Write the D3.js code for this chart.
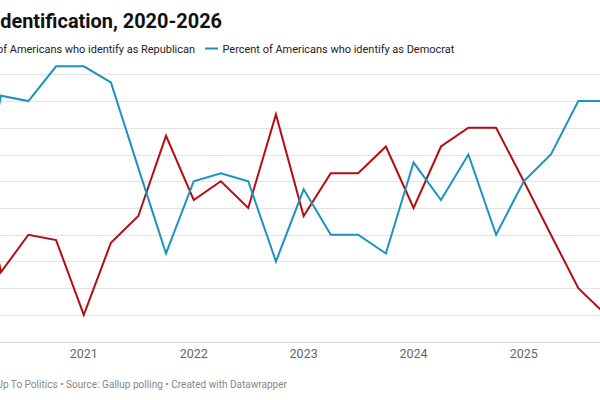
<!DOCTYPE html>
<html>
<head>
<meta charset="utf-8">
<script src="https://cdn.jsdelivr.net/npm/d3@7"></script>
<style>
  body { margin: 0; background: #fff; }
  svg { font-family: Roboto, "Noto Sans", sans-serif; display: block; }
</style>
</head>
<body>
<div id="chart"></div>
<script>
// quarterly Gallup readings (percent)
const dates = ["2020-01-01","2020-04-01","2020-07-01","2020-10-01",
  "2021-01-01","2021-04-01","2021-07-01","2021-10-01",
  "2022-01-01","2022-04-01","2022-07-01","2022-10-01",
  "2023-01-01","2023-04-01","2023-07-01","2023-10-01",
  "2024-01-01","2024-04-01","2024-07-01","2024-10-01",
  "2025-01-01","2025-04-01","2025-07-01","2025-10-01"];
const republican = [31.7, 26.6, 28.0, 27.8, 25.0, 27.7, 28.7, 31.7, 29.3, 30.0, 29.0, 32.5,
  28.7, 30.3, 30.3, 31.3, 29.0, 31.3, 32.0, 32.0, 30.0, 28.0, 26.0, 25.0];
const democrat = [28.0, 33.2, 33.0, 34.3, 34.3, 33.7, 30.5, 27.3, 30.0, 30.3, 30.0, 27.0,
  29.7, 28.0, 28.0, 27.3, 30.7, 29.3, 31.0, 28.0, 30.0, 31.0, 33.0, 33.0];
const yTicks = [24, 25, 26, 27, 28, 29, 30, 31, 32, 33, 34];
const xTicks = ["2021", "2022", "2023", "2024", "2025"];

const width = 600, height = 400;
const parse = d3.timeParse("%Y-%m-%d");

const svg = d3.select("#chart").append("svg")
  .attr("width", width)
  .attr("height", height)
  .style("background-color", "#ffffff");

// the picture is a crop of a wider chart, so the scale is anchored on the visible years
const x = d3.scaleTime()
  .domain([parse("2021-01-01"), parse("2025-01-01")])
  .range([83.8, 523.8]);

const y = d3.scaleLinear()
  .domain([24, 34])
  .range([341.7, 74.3]);

// shrink/grow a text so that the given part of it spans the wanted width
function fit(sel, part, target) {
  const node = sel.node();
  const size = parseFloat(sel.style("font-size"));
  const full = node.getComputedTextLength();
  const probe = sel.clone().text(part);
  const w = probe.node().getComputedTextLength();
  probe.remove();
  sel.style("font-size", (size * target / w) + "px");
  return full;
}

// gridlines
svg.append("g")
  .selectAll("line")
  .data(yTicks)
  .join("line")
  .attr("x1", -40)
  .attr("x2", width + 40)
  .attr("y1", d => Math.round(y(d)) + 0.5)
  .attr("y2", d => Math.round(y(d)) + 0.5)
  .attr("stroke", d => d === 24 ? "#d6d6d6" : "#e3e3e3")
  .attr("stroke-width", 1);

// x axis labels
svg.append("g")
  .selectAll("text")
  .data(xTicks)
  .join("text")
  .attr("x", d => x(parse(d + "-01-01")))
  .attr("y", 358)
  .attr("text-anchor", "middle")
  .attr("fill", "#666")
  .style("font-size", "12.5px")
  .text(d => d);

// lines
const series = [
  {name: "Republican", values: republican, color: "#b50d12"},
  {name: "Democrat", values: democrat, color: "#1993c2"}
];

const line = d3.line()
  .x((d, i) => x(parse(dates[i])))
  .y(d => y(d));

svg.append("g")
  .selectAll("path")
  .data(series)
  .join("path")
  .attr("d", d => line(d.values))
  .attr("fill", "none")
  .attr("stroke", d => d.color)
  .attr("stroke-width", 2)
  .attr("stroke-linejoin", "miter");

// title
const title = svg.append("text")
  .attr("x", 222)
  .attr("y", 28)
  .attr("text-anchor", "end")
  .attr("fill", "#111")
  .style("font-size", "20.5px")
  .style("font-weight", "700")
  .text("Party identification, 2020-2026");
fit(title, "dentification, 2020-2026", 222);

// legend
const legendDem = svg.append("text")
  .attr("x", 222.5).attr("y", 53)
  .attr("fill", "#222")
  .style("font-size", "12px")
  .text("Percent of Americans who identify as Democrat");
fit(legendDem, legendDem.text(), 232);
const legendSize = legendDem.style("font-size");

svg.append("line")
  .attr("x1", 205).attr("x2", 218).attr("y1", 48.5).attr("y2", 48.5)
  .attr("stroke", series[1].color).attr("stroke-width", 2);

svg.append("text")
  .attr("x", 195).attr("y", 53)
  .attr("text-anchor", "end")
  .attr("fill", "#222")
  .style("font-size", legendSize)
  .text("Percent of Americans who identify as Republican");

svg.append("line")
  .attr("x1", -15).attr("x2", -3).attr("y1", 48.5).attr("y2", 48.5)
  .attr("stroke", series[0].color).attr("stroke-width", 2);

// footer
const footer = svg.append("text")
  .attr("x", 287)
  .attr("y", 388)
  .attr("text-anchor", "end")
  .attr("fill", "#888")
  .style("font-size", "11px")
  .text("Chart: Up To Politics \u2022 Source: Gallup polling \u2022 Created with Datawrapper");
fit(footer, "Up To Politics \u2022 Source: Gallup polling \u2022 Created with Datawrapper", 291);
</script>
</body>
</html>
